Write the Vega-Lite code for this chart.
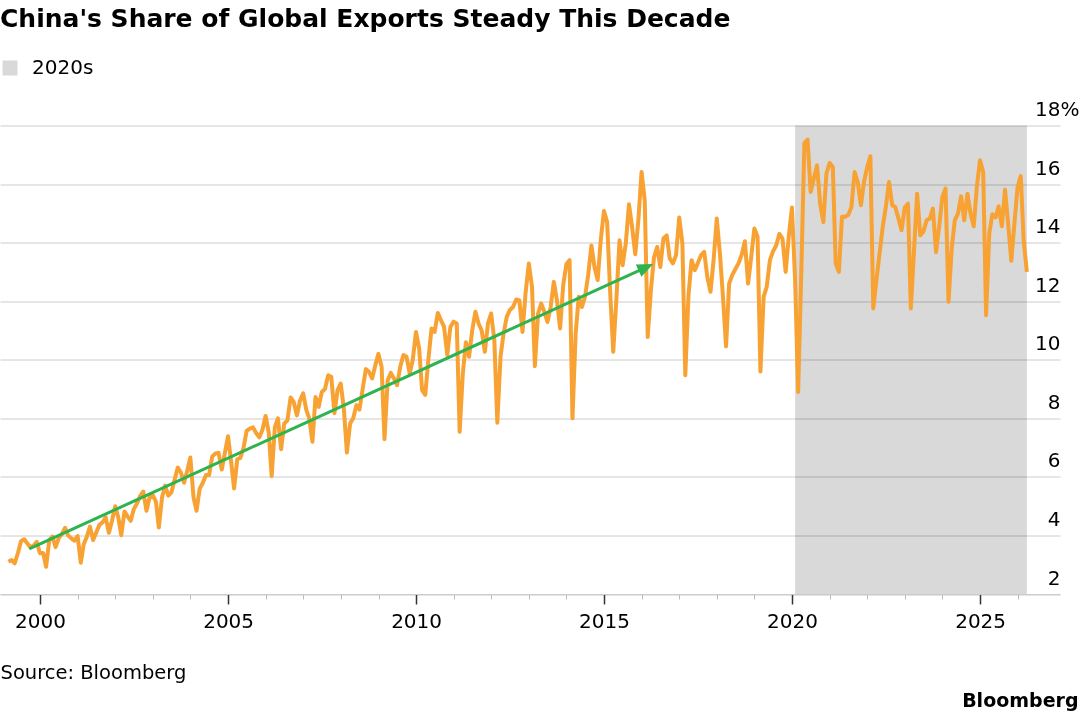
{
  "$schema": "https://vega.github.io/schema/vega-lite/v6.json",
  "description": "China's share of global exports, monthly, with the 2020s shaded and a trend arrow.",
  "width": 1060,
  "height": 468.5,
  "autosize": {"type": "none"},
  "padding": {"left": 0, "top": 125.5, "right": 20, "bottom": 122},
  "background": "white",
  "config": {"view": {"stroke": null}, "font": "DejaVu Sans"},
  "title": {
    "text": "China's Share of Global Exports Steady This Decade",
    "anchor": "start",
    "frame": "group",
    "font": "DejaVu Sans",
    "fontSize": 25,
    "fontWeight": "bold",
    "color": "#000000",
    "baseline": "alphabetic",
    "offset": 6
  },
  "datasets": {
    "share": [
      {"date": "1999-02-28", "share": 3.10},
      {"date": "1999-03-31", "share": 3.16},
      {"date": "1999-04-30", "share": 3.05},
      {"date": "1999-05-31", "share": 3.40},
      {"date": "1999-06-30", "share": 3.80},
      {"date": "1999-07-31", "share": 3.87},
      {"date": "1999-08-31", "share": 3.72},
      {"date": "1999-09-30", "share": 3.60},
      {"date": "1999-10-31", "share": 3.65},
      {"date": "1999-11-30", "share": 3.78},
      {"date": "1999-12-31", "share": 3.39},
      {"date": "2000-01-31", "share": 3.40},
      {"date": "2000-02-29", "share": 2.93},
      {"date": "2000-03-31", "share": 3.84},
      {"date": "2000-04-30", "share": 3.96},
      {"date": "2000-05-31", "share": 3.60},
      {"date": "2000-06-30", "share": 3.90},
      {"date": "2000-07-31", "share": 4.05},
      {"date": "2000-08-31", "share": 4.26},
      {"date": "2000-09-30", "share": 4.00},
      {"date": "2000-10-31", "share": 3.90},
      {"date": "2000-11-30", "share": 3.82},
      {"date": "2000-12-31", "share": 3.98},
      {"date": "2001-01-31", "share": 3.07},
      {"date": "2001-02-28", "share": 3.70},
      {"date": "2001-03-31", "share": 3.96},
      {"date": "2001-04-30", "share": 4.30},
      {"date": "2001-05-31", "share": 3.84},
      {"date": "2001-06-30", "share": 4.10},
      {"date": "2001-07-31", "share": 4.36},
      {"date": "2001-08-31", "share": 4.45},
      {"date": "2001-09-30", "share": 4.62},
      {"date": "2001-10-31", "share": 4.09},
      {"date": "2001-11-30", "share": 4.50},
      {"date": "2001-12-31", "share": 5.00},
      {"date": "2002-01-31", "share": 4.60},
      {"date": "2002-02-28", "share": 4.01},
      {"date": "2002-03-31", "share": 4.82},
      {"date": "2002-04-30", "share": 4.65},
      {"date": "2002-05-31", "share": 4.50},
      {"date": "2002-06-30", "share": 4.90},
      {"date": "2002-07-31", "share": 5.10},
      {"date": "2002-08-31", "share": 5.35},
      {"date": "2002-09-30", "share": 5.50},
      {"date": "2002-10-31", "share": 4.84},
      {"date": "2002-11-30", "share": 5.30},
      {"date": "2002-12-31", "share": 5.38},
      {"date": "2003-01-31", "share": 5.15},
      {"date": "2003-02-28", "share": 4.27},
      {"date": "2003-03-31", "share": 5.30},
      {"date": "2003-04-30", "share": 5.70},
      {"date": "2003-05-31", "share": 5.36},
      {"date": "2003-06-30", "share": 5.47},
      {"date": "2003-07-31", "share": 5.90},
      {"date": "2003-08-31", "share": 6.32},
      {"date": "2003-09-30", "share": 6.15},
      {"date": "2003-10-31", "share": 5.80},
      {"date": "2003-11-30", "share": 6.20},
      {"date": "2003-12-31", "share": 6.66},
      {"date": "2004-01-31", "share": 5.30},
      {"date": "2004-02-29", "share": 4.84},
      {"date": "2004-03-31", "share": 5.60},
      {"date": "2004-04-30", "share": 5.80},
      {"date": "2004-05-31", "share": 6.06},
      {"date": "2004-06-30", "share": 6.06},
      {"date": "2004-07-31", "share": 6.70},
      {"date": "2004-08-31", "share": 6.80},
      {"date": "2004-09-30", "share": 6.82},
      {"date": "2004-10-31", "share": 6.25},
      {"date": "2004-11-30", "share": 6.80},
      {"date": "2004-12-31", "share": 7.39},
      {"date": "2005-01-31", "share": 6.50},
      {"date": "2005-02-28", "share": 5.60},
      {"date": "2005-03-31", "share": 6.60},
      {"date": "2005-04-30", "share": 6.65},
      {"date": "2005-05-31", "share": 7.00},
      {"date": "2005-06-30", "share": 7.57},
      {"date": "2005-07-31", "share": 7.65},
      {"date": "2005-08-31", "share": 7.69},
      {"date": "2005-09-30", "share": 7.50},
      {"date": "2005-10-31", "share": 7.35},
      {"date": "2005-11-30", "share": 7.60},
      {"date": "2005-12-31", "share": 8.08},
      {"date": "2006-01-31", "share": 7.50},
      {"date": "2006-02-28", "share": 6.03},
      {"date": "2006-03-31", "share": 7.70},
      {"date": "2006-04-30", "share": 8.00},
      {"date": "2006-05-31", "share": 6.94},
      {"date": "2006-06-30", "share": 7.82},
      {"date": "2006-07-31", "share": 7.93},
      {"date": "2006-08-31", "share": 8.71},
      {"date": "2006-09-30", "share": 8.56},
      {"date": "2006-10-31", "share": 8.10},
      {"date": "2006-11-30", "share": 8.60},
      {"date": "2006-12-31", "share": 8.85},
      {"date": "2007-01-31", "share": 8.28},
      {"date": "2007-02-28", "share": 8.00},
      {"date": "2007-03-31", "share": 7.20},
      {"date": "2007-04-30", "share": 8.73},
      {"date": "2007-05-31", "share": 8.39},
      {"date": "2007-06-30", "share": 8.90},
      {"date": "2007-07-31", "share": 9.00},
      {"date": "2007-08-31", "share": 9.47},
      {"date": "2007-09-30", "share": 9.42},
      {"date": "2007-10-31", "share": 8.17},
      {"date": "2007-11-30", "share": 8.96},
      {"date": "2007-12-31", "share": 9.19},
      {"date": "2008-01-31", "share": 8.30},
      {"date": "2008-02-29", "share": 6.83},
      {"date": "2008-03-31", "share": 7.82},
      {"date": "2008-04-30", "share": 8.00},
      {"date": "2008-05-31", "share": 8.45},
      {"date": "2008-06-30", "share": 8.30},
      {"date": "2008-07-31", "share": 9.00},
      {"date": "2008-08-31", "share": 9.68},
      {"date": "2008-09-30", "share": 9.59},
      {"date": "2008-10-31", "share": 9.36},
      {"date": "2008-11-30", "share": 9.80},
      {"date": "2008-12-31", "share": 10.20},
      {"date": "2009-01-31", "share": 9.76},
      {"date": "2009-02-28", "share": 7.29},
      {"date": "2009-03-31", "share": 9.30},
      {"date": "2009-04-30", "share": 9.55},
      {"date": "2009-05-31", "share": 9.36},
      {"date": "2009-06-30", "share": 9.13},
      {"date": "2009-07-31", "share": 9.76},
      {"date": "2009-08-31", "share": 10.16},
      {"date": "2009-09-30", "share": 10.10},
      {"date": "2009-10-31", "share": 9.53},
      {"date": "2009-11-30", "share": 10.00},
      {"date": "2009-12-31", "share": 10.95},
      {"date": "2010-01-31", "share": 10.38},
      {"date": "2010-02-28", "share": 8.96},
      {"date": "2010-03-31", "share": 8.80},
      {"date": "2010-04-30", "share": 10.00},
      {"date": "2010-05-31", "share": 11.07},
      {"date": "2010-06-30", "share": 10.95},
      {"date": "2010-07-31", "share": 11.60},
      {"date": "2010-08-31", "share": 11.35},
      {"date": "2010-09-30", "share": 11.12},
      {"date": "2010-10-31", "share": 10.16},
      {"date": "2010-11-30", "share": 11.12},
      {"date": "2010-12-31", "share": 11.30},
      {"date": "2011-01-31", "share": 11.24},
      {"date": "2011-02-28", "share": 7.54},
      {"date": "2011-03-31", "share": 9.53},
      {"date": "2011-04-30", "share": 10.60},
      {"date": "2011-05-31", "share": 10.10},
      {"date": "2011-06-30", "share": 11.00},
      {"date": "2011-07-31", "share": 11.64},
      {"date": "2011-08-31", "share": 11.24},
      {"date": "2011-09-30", "share": 11.00},
      {"date": "2011-10-31", "share": 10.27},
      {"date": "2011-11-30", "share": 11.24},
      {"date": "2011-12-31", "share": 11.58},
      {"date": "2012-01-31", "share": 10.67},
      {"date": "2012-02-29", "share": 7.85},
      {"date": "2012-03-31", "share": 10.10},
      {"date": "2012-04-30", "share": 10.90},
      {"date": "2012-05-31", "share": 11.47},
      {"date": "2012-06-30", "share": 11.70},
      {"date": "2012-07-31", "share": 11.80},
      {"date": "2012-08-31", "share": 12.06},
      {"date": "2012-09-30", "share": 12.03},
      {"date": "2012-10-31", "share": 10.95},
      {"date": "2012-11-30", "share": 12.30},
      {"date": "2012-12-31", "share": 13.29},
      {"date": "2013-01-31", "share": 12.49},
      {"date": "2013-02-28", "share": 9.78},
      {"date": "2013-03-31", "share": 11.58},
      {"date": "2013-04-30", "share": 11.92},
      {"date": "2013-05-31", "share": 11.64},
      {"date": "2013-06-30", "share": 11.29},
      {"date": "2013-07-31", "share": 11.80},
      {"date": "2013-08-31", "share": 12.66},
      {"date": "2013-09-30", "share": 12.03},
      {"date": "2013-10-31", "share": 11.07},
      {"date": "2013-11-30", "share": 12.55},
      {"date": "2013-12-31", "share": 13.26},
      {"date": "2014-01-31", "share": 13.40},
      {"date": "2014-02-28", "share": 8.00},
      {"date": "2014-03-31", "share": 10.90},
      {"date": "2014-04-30", "share": 12.15},
      {"date": "2014-05-31", "share": 11.80},
      {"date": "2014-06-30", "share": 12.15},
      {"date": "2014-07-31", "share": 12.90},
      {"date": "2014-08-31", "share": 13.90},
      {"date": "2014-09-30", "share": 13.17},
      {"date": "2014-10-31", "share": 12.72},
      {"date": "2014-11-30", "share": 14.10},
      {"date": "2014-12-31", "share": 15.08},
      {"date": "2015-01-31", "share": 14.70},
      {"date": "2015-02-28", "share": 12.40},
      {"date": "2015-03-31", "share": 10.27},
      {"date": "2015-04-30", "share": 12.03},
      {"date": "2015-05-31", "share": 14.08},
      {"date": "2015-06-30", "share": 13.23},
      {"date": "2015-07-31", "share": 13.97},
      {"date": "2015-08-31", "share": 15.31},
      {"date": "2015-09-30", "share": 14.54},
      {"date": "2015-10-31", "share": 13.60},
      {"date": "2015-11-30", "share": 14.76},
      {"date": "2015-12-31", "share": 16.41},
      {"date": "2016-01-31", "share": 15.45},
      {"date": "2016-02-29", "share": 10.78},
      {"date": "2016-03-31", "share": 12.38},
      {"date": "2016-04-30", "share": 13.50},
      {"date": "2016-05-31", "share": 13.85},
      {"date": "2016-06-30", "share": 13.17},
      {"date": "2016-07-31", "share": 14.14},
      {"date": "2016-08-31", "share": 14.25},
      {"date": "2016-09-30", "share": 13.46},
      {"date": "2016-10-31", "share": 13.29},
      {"date": "2016-11-30", "share": 13.57},
      {"date": "2016-12-31", "share": 14.86},
      {"date": "2017-01-31", "share": 13.97},
      {"date": "2017-02-28", "share": 9.47},
      {"date": "2017-03-31", "share": 12.20},
      {"date": "2017-04-30", "share": 13.40},
      {"date": "2017-05-31", "share": 13.06},
      {"date": "2017-06-30", "share": 13.30},
      {"date": "2017-07-31", "share": 13.57},
      {"date": "2017-08-31", "share": 13.68},
      {"date": "2017-09-30", "share": 12.83},
      {"date": "2017-10-31", "share": 12.32},
      {"date": "2017-11-30", "share": 13.40},
      {"date": "2017-12-31", "share": 14.82},
      {"date": "2018-01-31", "share": 13.60},
      {"date": "2018-02-28", "share": 12.20},
      {"date": "2018-03-31", "share": 10.46},
      {"date": "2018-04-30", "share": 12.60},
      {"date": "2018-05-31", "share": 12.90},
      {"date": "2018-06-30", "share": 13.10},
      {"date": "2018-07-31", "share": 13.30},
      {"date": "2018-08-31", "share": 13.60},
      {"date": "2018-09-30", "share": 14.05},
      {"date": "2018-10-31", "share": 12.60},
      {"date": "2018-11-30", "share": 13.50},
      {"date": "2018-12-31", "share": 14.48},
      {"date": "2019-01-31", "share": 14.20},
      {"date": "2019-02-28", "share": 9.60},
      {"date": "2019-03-31", "share": 12.15},
      {"date": "2019-04-30", "share": 12.49},
      {"date": "2019-05-31", "share": 13.40},
      {"date": "2019-06-30", "share": 13.70},
      {"date": "2019-07-31", "share": 13.90},
      {"date": "2019-08-31", "share": 14.30},
      {"date": "2019-09-30", "share": 14.14},
      {"date": "2019-10-31", "share": 13.00},
      {"date": "2019-11-30", "share": 14.20},
      {"date": "2019-12-31", "share": 15.20},
      {"date": "2020-01-31", "share": 12.70},
      {"date": "2020-02-29", "share": 8.90},
      {"date": "2020-03-31", "share": 13.00},
      {"date": "2020-04-30", "share": 17.40},
      {"date": "2020-05-31", "share": 17.52},
      {"date": "2020-06-30", "share": 15.73},
      {"date": "2020-07-31", "share": 16.19},
      {"date": "2020-08-31", "share": 16.64},
      {"date": "2020-09-30", "share": 15.33},
      {"date": "2020-10-31", "share": 14.70},
      {"date": "2020-11-30", "share": 16.36},
      {"date": "2020-12-31", "share": 16.72},
      {"date": "2021-01-31", "share": 16.58},
      {"date": "2021-02-28", "share": 13.29},
      {"date": "2021-03-31", "share": 13.00},
      {"date": "2021-04-30", "share": 14.88},
      {"date": "2021-05-31", "share": 14.88},
      {"date": "2021-06-30", "share": 14.94},
      {"date": "2021-07-31", "share": 15.22},
      {"date": "2021-08-31", "share": 16.41},
      {"date": "2021-09-30", "share": 16.07},
      {"date": "2021-10-31", "share": 15.28},
      {"date": "2021-11-30", "share": 16.07},
      {"date": "2021-12-31", "share": 16.58},
      {"date": "2022-01-31", "share": 16.95},
      {"date": "2022-02-28", "share": 11.75},
      {"date": "2022-03-31", "share": 12.72},
      {"date": "2022-04-30", "share": 13.63},
      {"date": "2022-05-31", "share": 14.54},
      {"date": "2022-06-30", "share": 15.22},
      {"date": "2022-07-31", "share": 16.07},
      {"date": "2022-08-31", "share": 15.28},
      {"date": "2022-09-30", "share": 15.22},
      {"date": "2022-10-31", "share": 14.82},
      {"date": "2022-11-30", "share": 14.42},
      {"date": "2022-12-31", "share": 15.20},
      {"date": "2023-01-31", "share": 15.33},
      {"date": "2023-02-28", "share": 11.75},
      {"date": "2023-03-31", "share": 13.74},
      {"date": "2023-04-30", "share": 15.67},
      {"date": "2023-05-31", "share": 14.25},
      {"date": "2023-06-30", "share": 14.37},
      {"date": "2023-07-31", "share": 14.76},
      {"date": "2023-08-31", "share": 14.82},
      {"date": "2023-09-30", "share": 15.16},
      {"date": "2023-10-31", "share": 13.68},
      {"date": "2023-11-30", "share": 14.54},
      {"date": "2023-12-31", "share": 15.56},
      {"date": "2024-01-31", "share": 15.85},
      {"date": "2024-02-29", "share": 11.98},
      {"date": "2024-03-31", "share": 13.80},
      {"date": "2024-04-30", "share": 14.76},
      {"date": "2024-05-31", "share": 14.99},
      {"date": "2024-06-30", "share": 15.58},
      {"date": "2024-07-31", "share": 14.76},
      {"date": "2024-08-31", "share": 15.67},
      {"date": "2024-09-30", "share": 14.99},
      {"date": "2024-10-31", "share": 14.56},
      {"date": "2024-11-30", "share": 15.90},
      {"date": "2024-12-31", "share": 16.81},
      {"date": "2025-01-31", "share": 16.41},
      {"date": "2025-02-28", "share": 11.52},
      {"date": "2025-03-31", "share": 14.31},
      {"date": "2025-04-30", "share": 14.97},
      {"date": "2025-05-31", "share": 14.86},
      {"date": "2025-06-30", "share": 15.24},
      {"date": "2025-07-31", "share": 14.56},
      {"date": "2025-08-31", "share": 15.81},
      {"date": "2025-09-30", "share": 14.65},
      {"date": "2025-10-31", "share": 13.38},
      {"date": "2025-11-30", "share": 14.65},
      {"date": "2025-12-31", "share": 15.90},
      {"date": "2026-01-31", "share": 16.27},
      {"date": "2026-02-28", "share": 14.08},
      {"date": "2026-03-31", "share": 13.00}
    ],
    "decade": [
      {"start": "2020-01-31", "end": "2026-03-31", "label": "2020s"}
    ],
    "trend": [
      {"from": "1999-09-18", "fromShare": 3.54, "to": "2016-02-29", "toShare": 13.18, "tip": "2016-04-22", "tipShare": 13.27}
    ]
  },
  "layer": [
    {
      "data": {"name": "decade"},
      "mark": {"type": "rect", "blend": "multiply"},
      "encoding": {
        "x": {
          "field": "start",
          "type": "temporal",
          "scale": {
            "type": "utc",
            "domain": [
              {"year": 1998, "month": 12, "date": 8, "utc": true},
              {"year": 2027, "month": 2, "date": 16, "utc": true}
            ]
          }
        },
        "x2": {"field": "end"},
        "color": {
          "field": "label",
          "type": "nominal",
          "scale": {"range": ["#d9d9d9"]},
          "legend": {
            "title": null,
            "orient": "none",
            "legendX": 0,
            "legendY": -67.5,
            "symbolType": "square",
            "symbolSize": 225,
            "symbolStrokeWidth": 0,
            "labelFont": "DejaVu Sans",
            "labelFontSize": 20,
            "labelColor": "#000000",
            "labelOffset": 12
          }
        }
      }
    },
    {
      "data": {"name": "share"},
      "mark": {"type": "line", "color": "#F7A233", "strokeWidth": 4, "strokeJoin": "round"},
      "encoding": {
        "x": {
          "field": "date",
          "type": "temporal",
          "scale": {
            "type": "utc",
            "domain": [
              {"year": 1998, "month": 12, "date": 8, "utc": true},
              {"year": 2027, "month": 2, "date": 16, "utc": true}
            ]
          },
          "axis": {
            "orient": "bottom",
            "values": [
              {"year": 2000, "utc": true}, {"year": 2001, "utc": true}, {"year": 2002, "utc": true},
              {"year": 2003, "utc": true}, {"year": 2004, "utc": true}, {"year": 2005, "utc": true},
              {"year": 2006, "utc": true}, {"year": 2007, "utc": true}, {"year": 2008, "utc": true},
              {"year": 2009, "utc": true}, {"year": 2010, "utc": true}, {"year": 2011, "utc": true},
              {"year": 2012, "utc": true}, {"year": 2013, "utc": true}, {"year": 2014, "utc": true},
              {"year": 2015, "utc": true}, {"year": 2016, "utc": true}, {"year": 2017, "utc": true},
              {"year": 2018, "utc": true}, {"year": 2019, "utc": true}, {"year": 2020, "utc": true},
              {"year": 2021, "utc": true}, {"year": 2022, "utc": true}, {"year": 2023, "utc": true},
              {"year": 2024, "utc": true}, {"year": 2025, "utc": true}, {"year": 2026, "utc": true}
            ],
            "format": "%Y",
            "labelExpr": "utcyear(datum.value) % 5 === 0 ? datum.label : ''",
            "grid": false,
            "domainColor": "#cccccc",
            "domainWidth": 1,
            "tickColor": {"condition": {"test": "utcyear(datum.value) % 5 === 0", "value": "#333333"}, "value": "#bbbbbb"},
            "tickSize": {"condition": {"test": "utcyear(datum.value) % 5 === 0", "value": 10}, "value": 5},
            "tickWidth": {"condition": {"test": "utcyear(datum.value) % 5 === 0", "value": 1.5}, "value": 1},
            "labelFont": "DejaVu Sans",
            "labelFontSize": 20,
            "labelColor": "#000000",
            "labelBaseline": "alphabetic",
            "labelPadding": 23,
            "labelFlush": false,
            "labelOverlap": false,
            "title": "Source: Bloomberg",
            "titleFont": "DejaVu Sans",
            "titleFontSize": 19.5,
            "titleFontWeight": "normal",
            "titleColor": "#000000",
            "titleAnchor": "start",
            "titleAlign": "left",
            "titleBaseline": "alphabetic",
            "titleX": 0,
            "titleY": 84
          }
        },
        "y": {
          "field": "share",
          "type": "quantitative",
          "scale": {"domain": [2, 18], "nice": false, "zero": false},
          "axis": {
            "orient": "right",
            "values": [2, 4, 6, 8, 10, 12, 14, 16, 18],
            "labelExpr": "datum.value === 18 ? '18%' : datum.label",
            "grid": true,
            "gridColor": "#cccccc",
            "gridWidth": 1,
            "domain": false,
            "ticks": false,
            "labelFont": "DejaVu Sans",
            "labelFontSize": 20,
            "labelColor": "#000000",
            "labelAlign": "right",
            "labelBaseline": "alphabetic",
            "labelOffset": -10,
            "labelPadding": {"condition": {"test": "datum.value === 18", "value": 19}, "value": 0},
            "labelFlush": false,
            "labelOverlap": false,
            "title": "Bloomberg",
            "titleFont": "DejaVu Sans",
            "titleFontSize": 19,
            "titleFontWeight": "bold",
            "titleColor": "#000000",
            "titleAngle": 0,
            "titleAlign": "right",
            "titleBaseline": "alphabetic",
            "titleX": 18,
            "titleY": 580.5
          }
        }
      }
    },
    {
      "data": {"name": "trend"},
      "mark": {"type": "rule", "color": "#2DB34F", "strokeWidth": 3},
      "encoding": {
        "x": {
          "field": "from",
          "type": "temporal",
          "scale": {
            "type": "utc",
            "domain": [
              {"year": 1998, "month": 12, "date": 8, "utc": true},
              {"year": 2027, "month": 2, "date": 16, "utc": true}
            ]
          }
        },
        "x2": {"field": "to"},
        "y": {"field": "fromShare", "type": "quantitative", "scale": {"domain": [2, 18], "nice": false, "zero": false}},
        "y2": {"field": "toShare"}
      }
    },
    {
      "data": {"name": "trend"},
      "mark": {"type": "point", "shape": "M0,0L-2,-0.85L-2,0.85Z", "filled": true, "color": "#2DB34F", "opacity": 1, "size": 256, "angle": 335.5},
      "encoding": {
        "x": {
          "field": "tip",
          "type": "temporal",
          "scale": {
            "type": "utc",
            "domain": [
              {"year": 1998, "month": 12, "date": 8, "utc": true},
              {"year": 2027, "month": 2, "date": 16, "utc": true}
            ]
          }
        },
        "y": {"field": "tipShare", "type": "quantitative", "scale": {"domain": [2, 18], "nice": false, "zero": false}}
      }
    }
  ]
}
